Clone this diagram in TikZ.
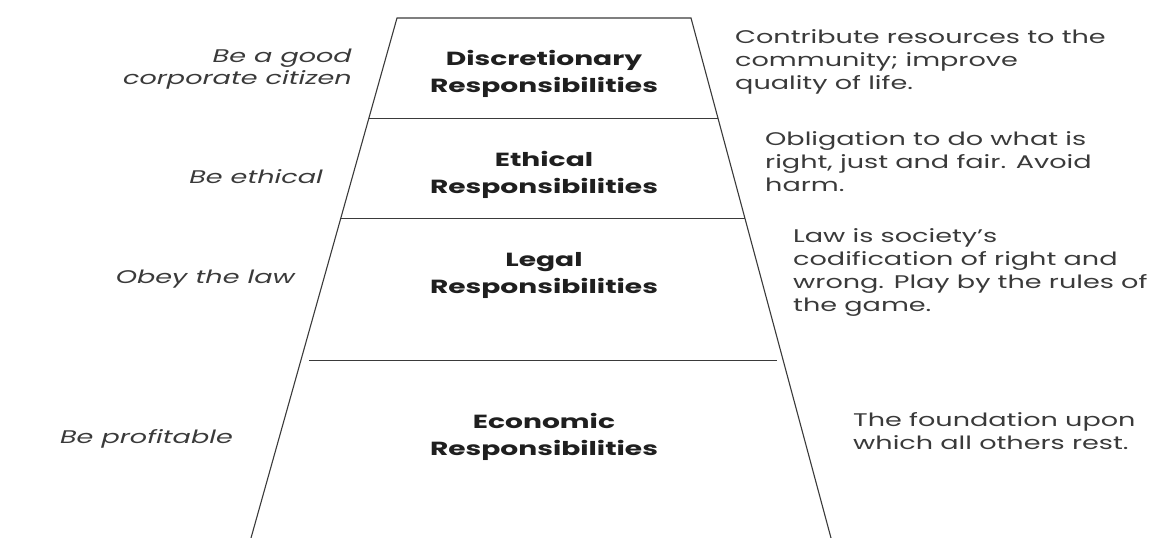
\documentclass[tikz,border=0pt]{standalone}
\usepackage{fontspec}
\setmainfont{Poppins}[FakeStretch=1.48]
\usepackage{xcolor}
\usetikzlibrary{calc}
\definecolor{inkgray}{HTML}{3A3A3A}

\begin{document}
\begin{tikzpicture}[x=1pt, y=-1pt,
    duty/.style={font=\fontsize{19}{27}\selectfont\bfseries, align=center, text=black!88},
    note/.style={font=\fontsize{18.3}{23}\selectfont, align=left, anchor=west, inner sep=0pt, text=inkgray},
    motto/.style={font=\fontsize{18.3}{22}\selectfont\itshape, align=right, anchor=east, inner sep=0pt, text=inkgray}]
   \useasboundingbox (0,0) rectangle (1173,538);

   % pyramid outline
   \coordinate (TL) at (397,18);
   \coordinate (TR) at (691,18);
   \coordinate (BL) at (251,538);
   \coordinate (BR) at (831,538);
   \draw[line width=1.1pt, inkgray] (BL) -- (TL) -- (TR) -- (BR);
   \draw[line width=1pt, inkgray] ($(TL)!0.1923!(BL)$) -- ($(TR)!0.1923!(BR)$);
   \draw[line width=1pt, inkgray] ($(TL)!0.3865!(BL)$) -- ($(TR)!0.3865!(BR)$);
   \draw[line width=1pt, inkgray] ($(TL)!0.6577!(BL)+(8,0)$) -- ($(TR)!0.6577!(BR)+(-6,0)$);

   \node[duty] (disc) at (544,74) {Discretionary\\Responsibilities};
   \node[duty] (eth) at (544,175) {Ethical\\Responsibilities};
   \node[duty] (leg) at (544,275) {Legal\\Responsibilities};
   \node[duty] (eco) at (544,437) {Economic\\Responsibilities};

   \node[motto] (good) at (352,69.5) {Be a good\\corporate citizen};
   \node[motto, anchor=base east] (ethic) at (323,183) {Be ethical};
   \node[motto, anchor=base east] (obey) at (295,283) {Obey the law};
   \node[motto, anchor=base east] (profit) at (233,443) {Be profitable};

   \node[note] (contrib) at (735,62) {Contribute resources to the\\community; improve\\quality of life.};
   \node[note] (oblig) at (765,162) {Obligation to do what is\\right, just and fair. Avoid\\harm.};
   \node[note] (lawis) at (793,273) {Law is society’s\\codification of right and\\wrong. Play by the rules of\\the game.};
   \node[note] (found) at (853,431.5) {The foundation upon\\which all others rest.};
\end{tikzpicture}
\end{document}
